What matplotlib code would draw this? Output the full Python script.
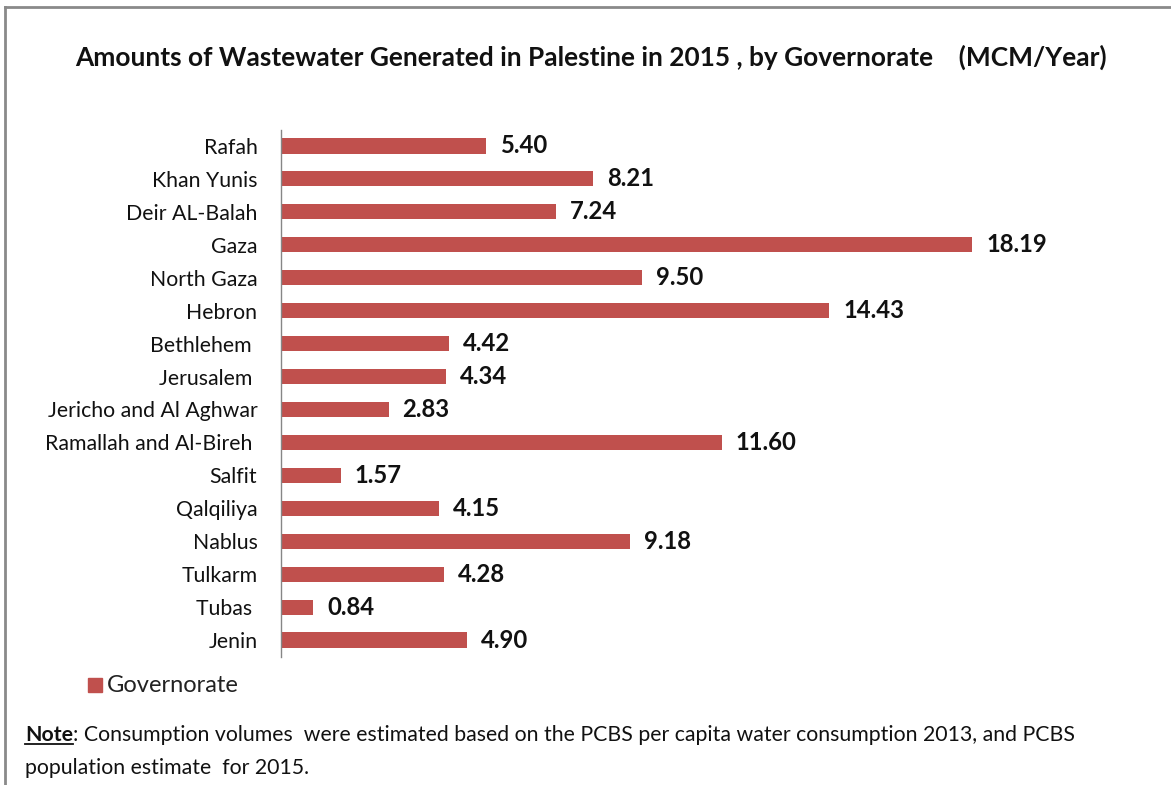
import matplotlib.pyplot as plt
from matplotlib.patches import Rectangle
from matplotlib.lines import Line2D

plt.rcParams['font.family'] = ['Lato', 'DejaVu Sans']

governorates = ["Rafah", "Khan Yunis", "Deir AL-Balah", "Gaza", "North Gaza", "Hebron",
                "Bethlehem ", "Jerusalem ", "Jericho and Al Aghwar", "Ramallah and Al-Bireh ",
                "Salfit", "Qalqiliya", "Nablus", "Tulkarm", "Tubas ", "Jenin"]
volumes = [5.40, 8.21, 7.24, 18.19, 9.50, 14.43, 4.42, 4.34, 2.83, 11.60,
           1.57, 4.15, 9.18, 4.28, 0.84, 4.90]

barColor = "#C0504D"
W, H = 1171, 785

fig = plt.figure(figsize=(11.71, 7.85), dpi=100)
ax = fig.add_axes([281 / W, 1 - 656.5 / H, 760 / W, 527 / H])

pos = list(range(len(governorates)))
ax.barh(pos, volumes, height=0.46, color=barColor)
ax.set_ylim(len(governorates) - 0.5, -0.5)
ax.set_xlim(0, 20)
ax.set_yticks(pos)
ax.set_yticklabels(governorates, fontsize=15.3, color="#111111")
ax.tick_params(axis="y", length=0, pad=17)
ax.set_xticks([])
for s in ["top", "right", "bottom"]:
    ax.spines[s].set_visible(False)
ax.spines["left"].set_color("#868686")
ax.spines["left"].set_linewidth(1)

for p, v in zip(pos, volumes):
    ax.annotate("%.2f" % v, (v, p), xytext=(14, 0), textcoords="offset pixels",
                va="center", ha="left", fontsize=17.2, fontweight="bold", color="#111111")

fig.text(75 / W, 1 - 57 / H,
         "Amounts of Wastewater Generated in Palestine in 2015 , by Governorate    (MCM/Year)",
         fontsize=18.9, fontweight="bold", va="center", ha="left", color="#111111")

# legend
fig.patches.append(Rectangle((88 / W, 1 - 692 / H), 14 / W, 14 / H,
                             transform=fig.transFigure, color=barColor))
fig.text(107 / W, 1 - 685 / H, "Governorate", fontsize=17, va="center", ha="left",
         color="#222222")

# note
note = fig.text(25 / W, 1 - 735 / H, "Note", fontsize=15.3, fontweight="bold",
                va="center", ha="left", color="#111111")
fig.canvas.draw()
bb = note.get_window_extent()
fig.text(bb.x1 / W, 1 - 735 / H,
         ": Consumption volumes  were estimated based on the PCBS per capita water consumption 2013, and PCBS",
         fontsize=15.3, va="center", ha="left", color="#111111")
fig.text(25 / W, 1 - 768 / H, "population estimate  for 2015.", fontsize=15.3,
         va="center", ha="left", color="#111111")
fig.lines.append(Line2D([bb.x0 / W, bb.x1 / W], [(bb.y0 + 1) / H, (bb.y0 + 1) / H],
                        transform=fig.transFigure, color="#111111", linewidth=1.3))

# frame lines along top and left
fig.lines.append(Line2D([5.5 / W, 1], [1 - 7 / H, 1 - 7 / H], transform=fig.transFigure,
                        color="#8a8a8a", linewidth=2))
fig.lines.append(Line2D([5.5 / W, 5.5 / W], [0, 1 - 7 / H], transform=fig.transFigure,
                        color="#8a8a8a", linewidth=2))

fig.savefig("out.png", dpi=100)
